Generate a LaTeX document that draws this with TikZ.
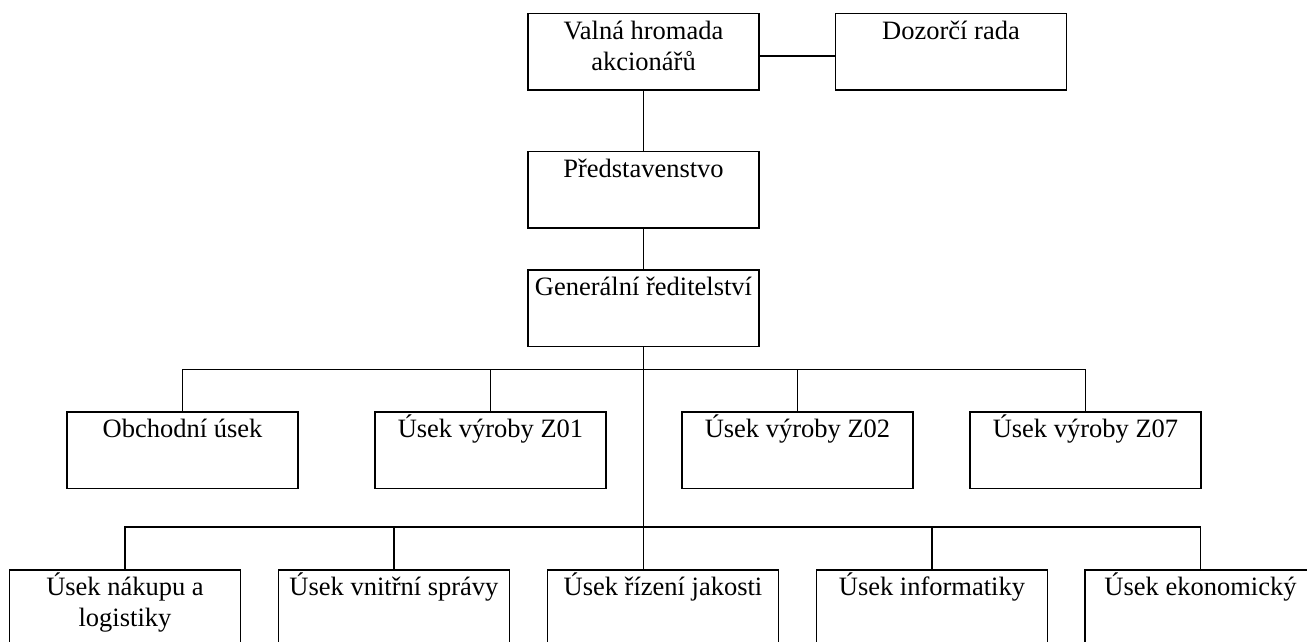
\documentclass[tikz,border=0pt]{standalone}
\usepackage{fontspec}
\setmainfont{Liberation Serif}
\newcommand\orgtxt[1]{\parbox[t][76.5pt][t]{231pt}{\centering\fontsize{26.5}{31}\selectfont\rule{0pt}{26pt}#1}}
\tikzset{
  orgbox/.style={draw, line width=1.5pt, inner sep=0pt, anchor=north},
  conn/.style={line width=1.5pt}
}
\begin{document}
\begin{tikzpicture}[x=1pt,y=-1pt]
\useasboundingbox (0,0) rectangle (1307,641);
\clip (0,0) rectangle (1307,641);
% top levels
\node[orgbox] (V) at (643.5,12.5) {\orgtxt{Valná hromada\\akcionářů}};
\node[orgbox] (D) at (951,12.5) {\orgtxt{Dozorčí rada}};
\node[orgbox] (P) at (643.5,150.7) {\orgtxt{Představenstvo}};
\node[orgbox] (G) at (643.5,269) {\orgtxt{Generální ředitelství}};
% row 2
\node[orgbox] (O) at (182.5,411) {\orgtxt{Obchodní úsek}};
\node[orgbox] (Z1) at (490.5,411) {\orgtxt{Úsek výroby Z01}};
\node[orgbox] (Z2) at (797.5,411) {\orgtxt{Úsek výroby Z02}};
\node[orgbox] (Z7) at (1085.5,411) {\orgtxt{Úsek výroby Z07}};
% row 3
\node[orgbox] (N) at (125,569) {\orgtxt{Úsek nákupu a\\logistiky}};
\node[orgbox] (VS) at (394,569) {\orgtxt{Úsek vnitřní správy}};
\node[orgbox] (RJ) at (663,569) {\orgtxt{Úsek řízení jakosti}};
\node[orgbox] (I) at (932,569) {\orgtxt{Úsek informatiky}};
\node[orgbox] (E) at (1200.5,569) {\orgtxt{Úsek ekonomický}};
% bus coordinates
\coordinate (b2) at (643.5,369.3);
\coordinate (b3) at (643.5,527);
% connectors
\draw[conn] ([yshift=-4.5pt]V.east) -- ([yshift=-4.5pt]V.east -| D.west);
\draw[conn] (V.south) -- (P.north);
\draw[conn] (P.south) -- (G.north);
\draw[conn] (G.south) -- (G.south |- RJ.north);
\draw[conn] (O.north) |- (b2) -| (Z7.north);
\draw[conn] (Z1.north) -- (Z1.north |- b2);
\draw[conn] (Z2.north) -- (Z2.north |- b2);
\draw[conn] (N.north) |- (b3) -| (E.north);
\draw[conn] (VS.north) -- (VS.north |- b3);
\draw[conn] (I.north) -- (I.north |- b3);
\end{tikzpicture}
\end{document}
